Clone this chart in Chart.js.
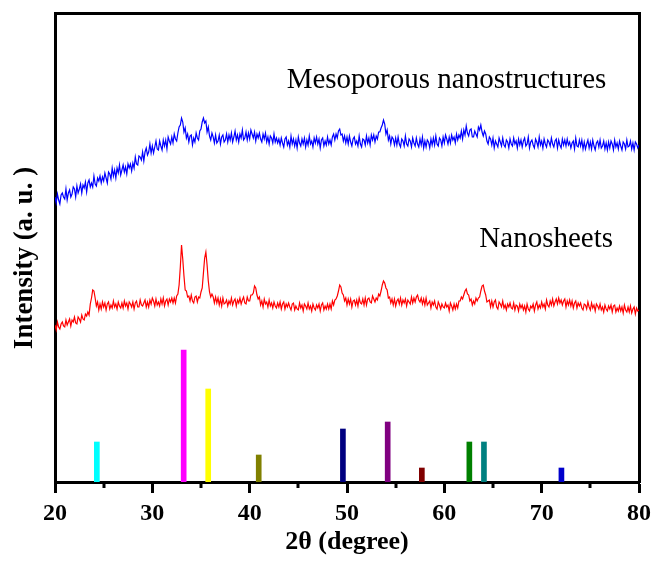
<!DOCTYPE html>
<html><head><meta charset="utf-8">
<script src="https://cdn.jsdelivr.net/npm/chart.js@4/dist/chart.umd.min.js"></script>
<style>html,body{margin:0;padding:0;background:#fff}canvas{display:block}</style>
</head><body>
<canvas id="c" width="657" height="564"></canvas>
<script>
// 2θ grid (degree)
const twoTheta = [
20,20.125,20.25,20.375,20.5,20.625,20.75,20.875, 21,21.125,21.25,21.375,21.5,21.625,21.75,21.875,
22,22.125,22.25,22.375,22.5,22.625,22.75,22.875, 23,23.125,23.25,23.375,23.5,23.625,23.75,23.875,
24,24.125,24.25,24.375,24.5,24.625,24.75,24.875, 25,25.125,25.25,25.375,25.5,25.625,25.75,25.875,
26,26.125,26.25,26.375,26.5,26.625,26.75,26.875, 27,27.125,27.25,27.375,27.5,27.625,27.75,27.875,
28,28.125,28.25,28.375,28.5,28.625,28.75,28.875, 29,29.125,29.25,29.375,29.5,29.625,29.75,29.875,
30,30.125,30.25,30.375,30.5,30.625,30.75,30.875, 31,31.125,31.25,31.375,31.5,31.625,31.75,31.875,
32,32.125,32.25,32.375,32.5,32.625,32.75,32.875, 33,33.125,33.25,33.375,33.5,33.625,33.75,33.875,
34,34.125,34.25,34.375,34.5,34.625,34.75,34.875, 35,35.125,35.25,35.375,35.5,35.625,35.75,35.875,
36,36.125,36.25,36.375,36.5,36.625,36.75,36.875, 37,37.125,37.25,37.375,37.5,37.625,37.75,37.875,
38,38.125,38.25,38.375,38.5,38.625,38.75,38.875, 39,39.125,39.25,39.375,39.5,39.625,39.75,39.875,
40,40.125,40.25,40.375,40.5,40.625,40.75,40.875, 41,41.125,41.25,41.375,41.5,41.625,41.75,41.875,
42,42.125,42.25,42.375,42.5,42.625,42.75,42.875, 43,43.125,43.25,43.375,43.5,43.625,43.75,43.875,
44,44.125,44.25,44.375,44.5,44.625,44.75,44.875, 45,45.125,45.25,45.375,45.5,45.625,45.75,45.875,
46,46.125,46.25,46.375,46.5,46.625,46.75,46.875, 47,47.125,47.25,47.375,47.5,47.625,47.75,47.875,
48,48.125,48.25,48.375,48.5,48.625,48.75,48.875, 49,49.125,49.25,49.375,49.5,49.625,49.75,49.875,
50,50.125,50.25,50.375,50.5,50.625,50.75,50.875, 51,51.125,51.25,51.375,51.5,51.625,51.75,51.875,
52,52.125,52.25,52.375,52.5,52.625,52.75,52.875, 53,53.125,53.25,53.375,53.5,53.625,53.75,53.875,
54,54.125,54.25,54.375,54.5,54.625,54.75,54.875, 55,55.125,55.25,55.375,55.5,55.625,55.75,55.875,
56,56.125,56.25,56.375,56.5,56.625,56.75,56.875, 57,57.125,57.25,57.375,57.5,57.625,57.75,57.875,
58,58.125,58.25,58.375,58.5,58.625,58.75,58.875, 59,59.125,59.25,59.375,59.5,59.625,59.75,59.875,
60,60.125,60.25,60.375,60.5,60.625,60.75,60.875, 61,61.125,61.25,61.375,61.5,61.625,61.75,61.875,
62,62.125,62.25,62.375,62.5,62.625,62.75,62.875, 63,63.125,63.25,63.375,63.5,63.625,63.75,63.875,
64,64.125,64.25,64.375,64.5,64.625,64.75,64.875, 65,65.125,65.25,65.375,65.5,65.625,65.75,65.875,
66,66.125,66.25,66.375,66.5,66.625,66.75,66.875, 67,67.125,67.25,67.375,67.5,67.625,67.75,67.875,
68,68.125,68.25,68.375,68.5,68.625,68.75,68.875, 69,69.125,69.25,69.375,69.5,69.625,69.75,69.875,
70,70.125,70.25,70.375,70.5,70.625,70.75,70.875, 71,71.125,71.25,71.375,71.5,71.625,71.75,71.875,
72,72.125,72.25,72.375,72.5,72.625,72.75,72.875, 73,73.125,73.25,73.375,73.5,73.625,73.75,73.875,
74,74.125,74.25,74.375,74.5,74.625,74.75,74.875, 75,75.125,75.25,75.375,75.5,75.625,75.75,75.875,
76,76.125,76.25,76.375,76.5,76.625,76.75,76.875, 77,77.125,77.25,77.375,77.5,77.625,77.75,77.875,
78,78.125,78.25,78.375,78.5,78.625,78.75,78.875, 79,79.125,79.25,79.375,79.5,79.625,79.75,79.875,
80];

// Mesoporous nanostructures (a.u.)
const mesoporous = [
285,279,288,282,278,287,289,285, 283,293,282,289,292,285,288,295,
293,285,296,289,293,298,289,297, 294,300,290,299,302,295,299,295,
306,298,296,304,301,306,299,305, 301,309,304,299,310,308,303,314,
306,312,304,314,309,317,307,312, 317,310,315,308,318,314,318,311,
319,314,325,318,317,326,325,322, 330,321,330,334,327,330,338,329,
336,329,335,341,333,332,341,336, 332,342,336,342,333,345,341,338,
345,339,348,343,341,349,355,357, 364,360,350,354,344,348,340,346,
347,337,344,340,349,344,342,351, 353,360,364,359,361,350,355,346,
342,349,345,339,347,339,341,347, 338,345,347,340,342,348,340,347,
342,349,340,345,351,342,347,340, 348,344,352,342,344,350,342,349,
343,352,348,344,350,341,348,344, 349,343,340,348,343,349,340,345,
338,346,344,339,348,340,344,339, 343,337,344,339,335,343,345,337,
341,335,346,338,343,336,342,334, 345,339,336,343,338,344,335,342,
337,346,338,341,335,344,339,345, 338,343,334,342,344,336,341,337,
345,338,342,337,345,348,342,348, 344,351,353,347,348,341,346,339,
345,338,346,340,336,343,345,338, 341,336,346,338,335,343,342,337,
346,339,344,337,347,342,347,340, 346,343,350,350,354,357,362,358,
348,352,342,346,338,345,343,337, 344,337,345,338,335,343,341,336,
346,338,336,343,341,335,344,339, 336,344,338,335,343,337,345,334,
341,335,342,340,334,343,337,344, 337,346,338,336,344,342,336,345,
339,347,343,338,345,339,347,342, 345,339,348,342,347,344,351,343,
352,347,356,349,346,352,353,345, 345,351,348,345,355,352,357,350,
346,351,348,341,338,345,343,337, 344,334,341,338,335,344,340,336,
344,337,335,342,340,334,343,338, 336,344,338,341,334,343,337,342,
335,341,344,336,338,345,334,340, 342,337,334,343,340,335,345,337,
341,334,343,338,335,342,340,336, 344,338,335,341,343,334,342,337,
334,343,337,342,336,343,337,340, 334,339,341,333,344,336,335,342,
336,342,333,340,333,338,342,334, 340,333,342,336,332,339,341,335,
342,334,336,341,333,339,332,340, 334,341,338,332,342,335,339,333,
341,336,332,340,338,333,342,335, 336,341,333,339,332,340,338,334,
337];

// Nanosheets (a.u.)
const nanosheets = [
157,152,160,155,153,158,160,156, 155,162,157,160,163,156,162,160,
165,159,158,165,163,160,167,163, 162,168,166,170,167,178,184,192,
191,184,176,180,172,178,173,180, 175,179,172,178,180,173,177,174,
181,175,178,173,180,176,174,179, 174,181,176,179,173,180,178,175,
180,173,179,181,175,175,182,177, 176,179,182,175,180,175,182,178,
184,181,176,183,177,180,176,183, 178,184,176,181,183,177,183,180,
184,179,184,179,186,188,197,215, 237,223,206,192,191,185,186,181,
187,181,179,185,186,180,185,184, 190,194,209,224,230,217,201,190,
185,188,185,179,185,179,184,177, 183,176,184,178,179,182,176,181,
178,184,177,181,183,176,182,179, 184,178,182,185,179,178,185,181,
181,187,187,189,196,194,187,183, 185,177,181,175,183,178,180,175,
182,176,179,174,180,176,174,179, 175,180,173,178,180,173,178,175,
179,175,172,178,179,172,176,173, 172,179,174,177,171,178,176,173,
179,173,176,171,178,174,172,177, 174,178,171,177,179,172,176,173,
178,173,178,173,181,177,182,183, 186,191,197,195,189,187,181,184,
177,183,178,183,175,181,182,177, 182,176,184,179,178,183,177,184,
177,183,184,180,179,186,183,180, 184,182,188,186,191,197,201,199,
194,192,184,185,179,183,177,183, 176,181,183,178,184,177,182,179,
183,176,182,180,178,185,179,184, 180,185,187,182,180,184,178,183,
177,184,177,179,181,174,180,177, 181,175,173,180,177,173,178,175,
174,179,175,177,171,179,176,172, 178,173,178,174,181,181,185,183,
187,191,193,188,187,181,183,177, 181,178,184,181,184,185,191,196,
197,191,187,180,181,182,175,181, 175,180,182,175,173,180,178,175,
181,174,177,172,178,175,179,174, 173,179,172,177,176,171,178,174,
177,172,176,170,178,173,171,176, 174,178,171,177,180,173,177,174,
180,175,178,173,182,177,175,181, 177,183,176,180,183,178,184,179,
182,177,181,183,175,181,177,182, 176,181,174,179,181,174,179,176,
179,174,172,178,177,173,180,175, 172,179,174,177,171,178,176,173,
178,172,175,170,177,173,171,176, 173,177,170,176,177,170,174,171,
176,171,175,169,177,172,170,175, 170,176,169,173,175,168,174,171,
172];

// Reference pattern lines (2θ, relative intensity)
const refPositions = [24.3, 33.22, 35.74, 40.93, 49.58, 54.18, 57.69, 62.57, 64.07, 72.03];
const refIntensity = [40, 132, 93, 27, 53, 60, 14, 40, 40, 14];
const refColors = ['#00FFFF','#FF00FF','#FFFF00','#808000','#000080','#800080','#800000','#008000','#008080','#0000CC'];

// Axis ticks
const majorTicks = [20, 30, 40, 50, 60, 70, 80];
const minorTicks = [25, 35, 45, 55, 65, 75];

// Curve labels
const labelTexts = ['Mesoporous nanostructures', 'Nanosheets'];
const labelX = [43.8, 63.6];
const labelY = [394, 235];
const yTitle = 'Intensity (a. u. )';

const serif = '"Liberation Serif", "Times New Roman", serif';

const extras = {
  id: 'extras',
  afterDraw(chart) {
    const c = chart.ctx, xs = chart.scales.x, ys = chart.scales.y;
    c.save();
    c.strokeStyle = '#000';
    c.lineWidth = 3;
    minorTicks.forEach(v => {
      const px = Math.round(xs.getPixelForValue(v));
      c.beginPath();
      c.moveTo(px, xs.top);
      c.lineTo(px, xs.top + 6);
      c.stroke();
    });
    c.fillStyle = '#000';
    c.font = '29px ' + serif;
    c.textBaseline = 'alphabetic';
    c.textAlign = 'left';
    labelTexts.forEach((t, i) => {
      c.fillText(t, xs.getPixelForValue(labelX[i]), ys.getPixelForValue(labelY[i]));
    });
    // y-axis title
    c.font = 'bold 27px ' + serif;
    c.textAlign = 'center';
    c.textBaseline = 'middle';
    c.translate(25, 258);
    c.rotate(-Math.PI / 2);
    c.fillText(yTitle, 0, 0);
    c.restore();
  }
};

const frame = { display: true, color: '#000', width: 3 };

new Chart(document.getElementById('c'), {
  type: 'line',
  data: {
    datasets: [
      {
        label: 'Mesoporous nanostructures',
        data: twoTheta.map((t, i) => ({ x: t, y: mesoporous[i] })),
        borderColor: '#0000FF', borderWidth: 1.2, pointRadius: 0, tension: 0, fill: false
      },
      {
        label: 'Nanosheets',
        data: twoTheta.map((t, i) => ({ x: t, y: nanosheets[i] })),
        borderColor: '#FF0000', borderWidth: 1.2, pointRadius: 0, tension: 0, fill: false
      },
      {
        type: 'bar',
        label: 'Reference',
        data: refPositions.map((p, i) => ({ x: p, y: refIntensity[i] })),
        backgroundColor: refColors, borderWidth: 0, barThickness: 5
      }
    ]
  },
  options: {
    responsive: false,
    animation: false,
    events: [],
    layout: { padding: { top: 13, right: 15, left: 0, bottom: 0 } },
    plugins: { legend: { display: false }, tooltip: { enabled: false } },
    scales: {
      x: {
        type: 'linear', position: 'bottom', min: 20, max: 80, offset: false,
        afterBuildTicks(s) { s.ticks = majorTicks.map(v => ({ value: v })); },
        ticks: { color: '#000', font: { family: serif, weight: 'bold', size: 24 }, padding: 6, maxRotation: 0, autoSkip: false },
        grid: { display: true, offset: false, drawOnChartArea: false, drawTicks: true, tickLength: 11, tickWidth: 3, tickColor: '#000' },
        border: frame,
        title: { display: true, text: '2θ (degree)', color: '#000', font: { family: serif, weight: 'bold', size: 26 }, padding: { top: 0, bottom: 6 } },
        afterFit(s) { s.height = 82; }
      },
      x2: {
        type: 'linear', position: 'top', min: 20, max: 80, offset: false,
        ticks: { display: false }, grid: { display: false }, border: frame,
        afterFit(s) { s.height = 0; }
      },
      y: {
        type: 'linear', position: 'left', min: 0, max: 469,
        ticks: { display: false }, grid: { display: false }, border: frame,
        title: { display: false },
        afterFit(s) { s.width = 55; }
      },
      y2: {
        type: 'linear', position: 'right', min: 0, max: 469,
        ticks: { display: false }, grid: { display: false }, border: frame,
        afterFit(s) { s.width = 0; }
      }
    }
  },
  plugins: [extras]
});
</script>
</body></html>
